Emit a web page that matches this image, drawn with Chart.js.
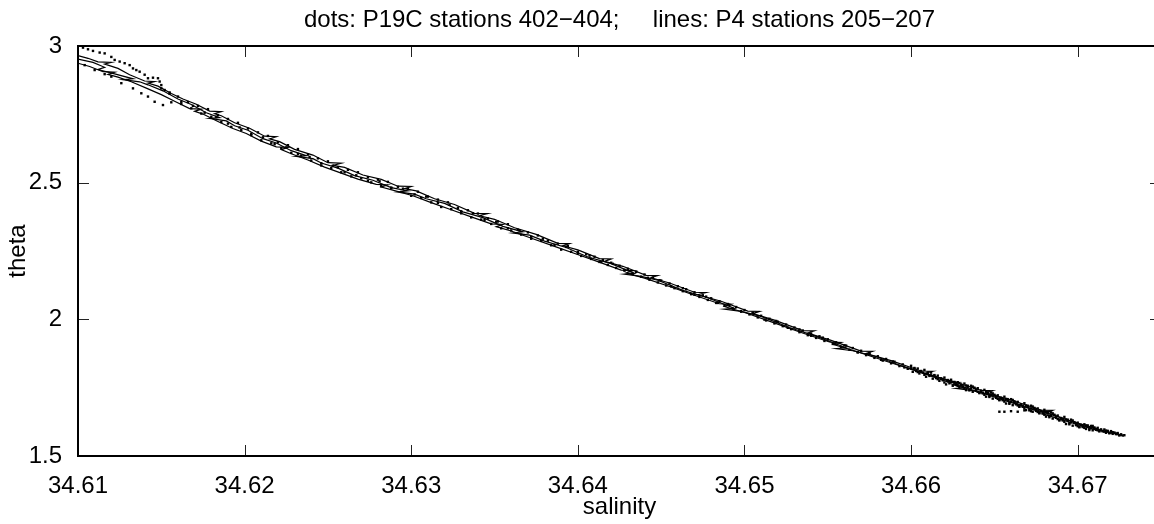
<!DOCTYPE html>
<html>
<head>
<meta charset="utf-8">
<title>theta / salinity</title>
<script src="https://cdn.jsdelivr.net/npm/chart.js@4.4.1/dist/chart.umd.min.js"></script>
<style>
  html, body { margin: 0; padding: 0; background: #fff; overflow: hidden; }
  #wrap { position: relative; width: 1154px; height: 524px; overflow: hidden; }
  #tsChart { position: absolute; left: 0; top: 0; }
</style>
</head>
<body>
<div id="wrap"><canvas id="tsChart" width="1170" height="524"></canvas></div>
<script>
// ============================== data

const titleText = 'dots: P19C stations 402\u2212404;     lines: P4 stations 205\u2212207';
const xTicks = [34.61, 34.62, 34.63, 34.64, 34.65, 34.66, 34.67];
const yTicks = [1.5, 2, 2.5, 3];

// P4 lines
const sal205 = [34.6100, 34.6106, 34.6112, 34.6120, 34.6116, 34.6118, 34.6124, 34.6131, 34.6140, 34.6146,
  34.6142, 34.6148, 34.6156, 34.6163, 34.6171, 34.6179, 34.6186, 34.6182, 34.6186, 34.6194,
  34.6203, 34.6212, 34.6219, 34.6215, 34.6221, 34.6230, 34.6241, 34.6250, 34.6258, 34.6253,
  34.6260, 34.6271, 34.6282, 34.6292, 34.6300, 34.6296, 34.6303, 34.6314, 34.6326, 34.6338,
  34.6346, 34.6341, 34.6350, 34.6362, 34.6375, 34.6388, 34.6395, 34.6391, 34.6400, 34.6413,
  34.6420, 34.6416, 34.6427, 34.6441, 34.6448, 34.6444, 34.6455, 34.6470, 34.6477, 34.6472,
  34.6486, 34.6502, 34.6509, 34.6505, 34.6518, 34.6535, 34.6542, 34.6538, 34.6552, 34.6570,
  34.6577, 34.6573, 34.6588, 34.6606, 34.6613, 34.6608, 34.6624, 34.6642, 34.6649, 34.6645,
  34.6660, 34.6678, 34.6685, 34.6681, 34.6695, 34.6710];
const theta205 = [2.965, 2.955, 2.942, 2.940, 2.934, 2.930, 2.918, 2.895, 2.872, 2.870,
  2.864, 2.853, 2.826, 2.806, 2.787, 2.762, 2.760, 2.752, 2.745, 2.719,
  2.699, 2.670, 2.668, 2.660, 2.650, 2.622, 2.601, 2.573, 2.571, 2.563,
  2.556, 2.528, 2.512, 2.487, 2.486, 2.478, 2.470, 2.441, 2.420, 2.388,
  2.387, 2.379, 2.366, 2.335, 2.311, 2.278, 2.277, 2.269, 2.254, 2.222,
  2.221, 2.212, 2.194, 2.161, 2.160, 2.152, 2.133, 2.099, 2.098, 2.090,
  2.066, 2.030, 2.029, 2.021, 1.997, 1.959, 1.958, 1.950, 1.923, 1.884,
  1.883, 1.875, 1.849, 1.811, 1.810, 1.802, 1.775, 1.740, 1.739, 1.731,
  1.705, 1.668, 1.667, 1.658, 1.630, 1.602];

const sal206 = [34.6100, 34.6109, 34.6116, 34.6112, 34.6122, 34.6133, 34.6127, 34.6137, 34.6142, 34.6151,
  34.6160, 34.6168, 34.6177, 34.6185, 34.6179, 34.6189, 34.6194, 34.6202, 34.6211, 34.6219,
  34.6228, 34.6237, 34.6231, 34.6241, 34.6246, 34.6256, 34.6266, 34.6277, 34.6288, 34.6298,
  34.6292, 34.6302, 34.6309, 34.6320, 34.6331, 34.6343, 34.6355, 34.6367, 34.6361, 34.6371,
  34.6380, 34.6393, 34.6406, 34.6420, 34.6434, 34.6428, 34.6438, 34.6448, 34.6463, 34.6478,
  34.6494, 34.6488, 34.6498, 34.6510, 34.6527, 34.6544, 34.6561, 34.6555, 34.6565, 34.6579,
  34.6597, 34.6615, 34.6633, 34.6627, 34.6637, 34.6651, 34.6669, 34.6687, 34.6703, 34.6718];
const theta206 = [2.952, 2.940, 2.922, 2.914, 2.898, 2.880, 2.877, 2.869, 2.858, 2.836,
  2.806, 2.786, 2.756, 2.738, 2.735, 2.726, 2.708, 2.692, 2.661, 2.645,
  2.617, 2.599, 2.596, 2.588, 2.572, 2.553, 2.526, 2.509, 2.482, 2.470,
  2.466, 2.458, 2.441, 2.424, 2.393, 2.372, 2.340, 2.320, 2.316, 2.308,
  2.286, 2.263, 2.228, 2.204, 2.168, 2.165, 2.157, 2.143, 2.106, 2.079,
  2.040, 2.037, 2.029, 2.011, 1.970, 1.936, 1.896, 1.893, 1.885, 1.864,
  1.824, 1.791, 1.750, 1.747, 1.739, 1.719, 1.680, 1.647, 1.611, 1.588];

const sal207 = [34.6100, 34.6107, 34.6115, 34.6122, 34.6118, 34.6124, 34.6132, 34.6141, 34.6150, 34.6158,
  34.6167, 34.6174, 34.6170, 34.6175, 34.6184, 34.6193, 34.6201, 34.6210, 34.6219, 34.6226,
  34.6222, 34.6228, 34.6238, 34.6248, 34.6258, 34.6268, 34.6279, 34.6286, 34.6282, 34.6290,
  34.6301, 34.6312, 34.6324, 34.6336, 34.6348, 34.6355, 34.6351, 34.6360, 34.6373, 34.6386,
  34.6399, 34.6412, 34.6426, 34.6433, 34.6429, 34.6440, 34.6455, 34.6470, 34.6485, 34.6492,
  34.6488, 34.6501, 34.6517, 34.6534, 34.6551, 34.6558, 34.6554, 34.6568, 34.6586, 34.6604,
  34.6622, 34.6629, 34.6625, 34.6640, 34.6658, 34.6676, 34.6683, 34.6679, 34.6693, 34.6709,
  34.6724];
const theta207 = [2.937, 2.925, 2.906, 2.904, 2.896, 2.886, 2.869, 2.846, 2.822, 2.798,
  2.771, 2.769, 2.761, 2.751, 2.724, 2.698, 2.680, 2.652, 2.631, 2.629,
  2.621, 2.606, 2.583, 2.557, 2.535, 2.513, 2.494, 2.492, 2.484, 2.471,
  2.452, 2.427, 2.401, 2.375, 2.349, 2.347, 2.339, 2.323, 2.295, 2.267,
  2.239, 2.211, 2.180, 2.178, 2.170, 2.151, 2.120, 2.088, 2.057, 2.055,
  2.047, 2.023, 1.989, 1.952, 1.917, 1.915, 1.907, 1.881, 1.845, 1.809,
  1.771, 1.769, 1.761, 1.736, 1.700, 1.664, 1.662, 1.654, 1.628, 1.598,
  1.580];

// P19C dots
const dotSal402 = [34.6103, 34.6106, 34.6109, 34.6113, 34.6116, 34.6120, 34.6122, 34.6125, 34.6128, 34.6131,
  34.6133, 34.6135, 34.6137, 34.6140, 34.6142, 34.6145, 34.6148, 34.6149, 34.6150, 34.6150,
  34.6152, 34.6155,
  34.6160, 34.6166, 34.6172, 34.6178, 34.6184, 34.6190, 34.6196, 34.6202, 34.6208, 34.6214,
  34.6220, 34.6226, 34.6232, 34.6238, 34.6244, 34.6250, 34.6256, 34.6262, 34.6268, 34.6274,
  34.6280, 34.6286, 34.6292, 34.6298, 34.6304, 34.6310, 34.6316, 34.6322, 34.6328, 34.6334,
  34.6340, 34.6346, 34.6352, 34.6358, 34.6364, 34.6370, 34.6376, 34.6382, 34.6388, 34.6394,
  34.6400,
  34.6405, 34.6410, 34.6415, 34.6420, 34.6425, 34.6430, 34.6435, 34.6440, 34.6445, 34.6450,
  34.6455, 34.6460, 34.6465, 34.6470, 34.6475, 34.6480, 34.6485, 34.6490, 34.6495, 34.6500,
  34.6505, 34.6510, 34.6515, 34.6520, 34.6525, 34.6530, 34.6535, 34.6540, 34.6545, 34.6550,
  34.6555, 34.6560, 34.6565, 34.6570, 34.6575, 34.6580, 34.6585, 34.6590, 34.6595,
  34.6600, 34.6602, 34.6604, 34.6606, 34.6608, 34.6610, 34.6612, 34.6614, 34.6616, 34.6618,
  34.6620, 34.6622, 34.6624, 34.6626, 34.6628, 34.6630, 34.6632, 34.6634, 34.6636, 34.6638,
  34.6640, 34.6642, 34.6644, 34.6646, 34.6648, 34.6650, 34.6652, 34.6654, 34.6656, 34.6658,
  34.6660, 34.6662, 34.6664, 34.6666, 34.6668, 34.6670, 34.6672, 34.6674, 34.6676, 34.6678,
  34.6680, 34.6682, 34.6684, 34.6686, 34.6688, 34.6690, 34.6692, 34.6694, 34.6696, 34.6698,
  34.6700, 34.6702, 34.6704, 34.6706, 34.6708, 34.6710, 34.6712, 34.6714, 34.6716, 34.6718,
  34.6720, 34.6722, 34.6724, 34.6726, 34.6728];
const dotTheta402 = [2.994, 2.988, 2.982, 2.976, 2.973, 2.960, 2.949, 2.943, 2.937, 2.930,
  2.918, 2.912, 2.906, 2.895, 2.882, 2.884, 2.882, 2.870, 2.857, 2.845,
  2.839, 2.830,
  2.815, 2.795, 2.781, 2.769, 2.747, 2.733, 2.719, 2.698, 2.684, 2.671,
  2.648, 2.637, 2.623, 2.603, 2.589, 2.578, 2.556, 2.547, 2.538, 2.520,
  2.511, 2.503, 2.485, 2.477, 2.467, 2.449, 2.438, 2.428, 2.408, 2.399,
  2.387, 2.369, 2.358, 2.348, 2.328, 2.318, 2.307, 2.288, 2.277, 2.268,
  2.247,
  2.238, 2.229, 2.217, 2.207, 2.196, 2.185, 2.174, 2.164, 2.153, 2.142,
  2.131, 2.121, 2.110, 2.099, 2.088, 2.077, 2.066, 2.056, 2.045, 2.034,
  2.024, 2.013, 2.002, 1.991, 1.981, 1.970, 1.959, 1.948, 1.938, 1.927,
  1.916, 1.905, 1.895, 1.885, 1.875, 1.865, 1.855, 1.845, 1.835,
  1.830, 1.820, 1.820, 1.810, 1.815, 1.806, 1.805, 1.794, 1.794, 1.783,
  1.787, 1.778, 1.779, 1.769, 1.770, 1.760, 1.765, 1.757, 1.757, 1.748,
  1.748, 1.738, 1.742, 1.733, 1.732, 1.722, 1.722, 1.712, 1.717, 1.708,
  1.708, 1.698, 1.698, 1.688, 1.693, 1.684, 1.684, 1.674, 1.674, 1.664,
  1.669, 1.660, 1.659, 1.649, 1.648, 1.638, 1.643, 1.633, 1.633, 1.622,
  1.622, 1.613, 1.616, 1.612, 1.610, 1.603, 1.603, 1.597, 1.597, 1.592,
  1.591, 1.585, 1.584, 1.579, 1.576];

const dotSal403 = [34.6104, 34.6110, 34.6116, 34.6120, 34.6126, 34.6133, 34.6138, 34.6142, 34.6146, 34.6151,
  34.6156, 34.6162, 34.6168, 34.6174, 34.6180, 34.6186, 34.6192, 34.6198, 34.6204, 34.6210,
  34.6216, 34.6222, 34.6228, 34.6234, 34.6240, 34.6246, 34.6252, 34.6258, 34.6264, 34.6270,
  34.6276, 34.6282, 34.6288, 34.6294, 34.6300, 34.6306, 34.6312, 34.6318, 34.6324, 34.6330,
  34.6336, 34.6342, 34.6348, 34.6354, 34.6360, 34.6366, 34.6372, 34.6378, 34.6384, 34.6390,
  34.6396, 34.6402,
  34.6408, 34.6413, 34.6418, 34.6423, 34.6428, 34.6433, 34.6438, 34.6443, 34.6448, 34.6453,
  34.6458, 34.6463, 34.6468, 34.6473, 34.6478, 34.6483, 34.6488, 34.6493, 34.6498, 34.6503,
  34.6508, 34.6513, 34.6518, 34.6523, 34.6528, 34.6533, 34.6538, 34.6543, 34.6548, 34.6553,
  34.6558, 34.6563, 34.6568, 34.6573, 34.6578, 34.6583, 34.6588, 34.6593, 34.6598,
  34.6601, 34.6603, 34.6605, 34.6607, 34.6609, 34.6611, 34.6613, 34.6615, 34.6617, 34.6619,
  34.6621, 34.6623, 34.6625, 34.6627, 34.6629, 34.6631, 34.6633, 34.6635, 34.6637, 34.6639,
  34.6641, 34.6643, 34.6645, 34.6647, 34.6649, 34.6651, 34.6653, 34.6655, 34.6657, 34.6659,
  34.6661, 34.6663, 34.6665, 34.6667, 34.6669, 34.6671, 34.6673, 34.6675, 34.6677, 34.6679,
  34.6681, 34.6683, 34.6685, 34.6687, 34.6689, 34.6691, 34.6693, 34.6695, 34.6697, 34.6699,
  34.6701, 34.6703, 34.6705, 34.6707, 34.6709, 34.6711, 34.6713, 34.6715, 34.6717, 34.6719,
  34.6721, 34.6723, 34.6725, 34.6727];
const dotTheta403 = [2.930, 2.912, 2.897, 2.888, 2.864, 2.845, 2.827, 2.815, 2.796, 2.784,
  2.794, 2.788, 2.772, 2.753, 2.741, 2.722, 2.704, 2.693, 2.674, 2.655,
  2.644, 2.626, 2.609, 2.599, 2.581, 2.563, 2.553, 2.538, 2.523, 2.516,
  2.501, 2.487, 2.480, 2.466, 2.452, 2.444, 2.428, 2.411, 2.403, 2.388,
  2.373, 2.365, 2.349, 2.333, 2.325, 2.310, 2.295, 2.287, 2.271, 2.255,
  2.247, 2.232,
  2.221, 2.210, 2.199, 2.188, 2.178, 2.167, 2.156, 2.145, 2.135, 2.124,
  2.114, 2.103, 2.092, 2.082, 2.071, 2.060, 2.050, 2.039, 2.028, 2.018,
  2.007, 1.996, 1.985, 1.975, 1.964, 1.953, 1.942, 1.932, 1.921, 1.910,
  1.899, 1.889, 1.879, 1.869, 1.859, 1.849, 1.839, 1.829, 1.819,
  1.808, 1.811, 1.802, 1.805, 1.790, 1.793, 1.783, 1.785, 1.775, 1.777,
  1.762, 1.766, 1.757, 1.760, 1.752, 1.755, 1.741, 1.744, 1.735, 1.739,
  1.730, 1.732, 1.717, 1.720, 1.710, 1.713, 1.704, 1.707, 1.692, 1.695,
  1.686, 1.689, 1.680, 1.683, 1.668, 1.671, 1.662, 1.665, 1.656, 1.659,
  1.644, 1.646, 1.637, 1.640, 1.630, 1.633, 1.617, 1.620, 1.611, 1.613,
  1.605, 1.609, 1.599, 1.600, 1.594, 1.596, 1.590, 1.591, 1.585, 1.585,
  1.581, 1.580, 1.576, 1.575];

const dotSal404 = [34.6155, 34.6162, 34.6169, 34.6176, 34.6183, 34.6190, 34.6197, 34.6204, 34.6211, 34.6218,
  34.6225, 34.6232, 34.6239, 34.6246, 34.6253, 34.6260, 34.6267, 34.6274, 34.6281, 34.6288,
  34.6295, 34.6302, 34.6309, 34.6316, 34.6323, 34.6330, 34.6337, 34.6344, 34.6351, 34.6358,
  34.6365, 34.6372, 34.6379, 34.6386, 34.6393, 34.6400, 34.6407, 34.6414, 34.6421, 34.6428,
  34.6435, 34.6442, 34.6449, 34.6456, 34.6463, 34.6470, 34.6477, 34.6484, 34.6491, 34.6498,
  34.6505, 34.6512, 34.6519, 34.6526, 34.6533, 34.6540, 34.6547, 34.6554, 34.6561, 34.6568,
  34.6575, 34.6582, 34.6589, 34.6596,
  34.6600, 34.6602, 34.6604, 34.6606, 34.6608, 34.6610, 34.6612, 34.6614, 34.6616, 34.6618,
  34.6620, 34.6622, 34.6624, 34.6626, 34.6628, 34.6630, 34.6632, 34.6634, 34.6636, 34.6638,
  34.6640, 34.6642, 34.6644, 34.6646, 34.6648, 34.6650, 34.6652, 34.6654, 34.6656, 34.6658,
  34.6660, 34.6662, 34.6664, 34.6666, 34.6668, 34.6670, 34.6672, 34.6674, 34.6676, 34.6678,
  34.6680, 34.6682, 34.6684, 34.6686, 34.6688, 34.6690, 34.6692, 34.6694, 34.6696, 34.6698,
  34.6700, 34.6702, 34.6704, 34.6706, 34.6708, 34.6710, 34.6712, 34.6714, 34.6716, 34.6718,
  34.6720, 34.6722, 34.6724, 34.6726,
  34.6631, 34.6633, 34.6635, 34.6637, 34.6639, 34.6641, 34.6643, 34.6645, 34.6647, 34.6649,
  34.6651, 34.6653, 34.6655, 34.6657, 34.6659, 34.6661, 34.6663, 34.6665, 34.6667, 34.6669,
  34.6671, 34.6673, 34.6675, 34.6677, 34.6679, 34.6681, 34.6683, 34.6685, 34.6687, 34.6689,
  34.6691, 34.6693, 34.6695, 34.6697, 34.6699, 34.6701, 34.6703, 34.6705, 34.6707, 34.6709,
  34.6711, 34.6713, 34.6715, 34.6717, 34.6719, 34.6721, 34.6723, 34.6725,
  34.6653, 34.6656, 34.6660, 34.6664, 34.6668, 34.6672];
const dotTheta404 = [2.825, 2.796, 2.781, 2.756, 2.741, 2.716, 2.702, 2.679, 2.666, 2.641,
  2.629, 2.605, 2.594, 2.571, 2.562, 2.538, 2.527, 2.507, 2.505, 2.482,
  2.478, 2.457, 2.449, 2.426, 2.419, 2.395, 2.388, 2.364, 2.357, 2.333,
  2.326, 2.302, 2.295, 2.272, 2.265, 2.241, 2.233, 2.210, 2.203, 2.181,
  2.174, 2.152, 2.143, 2.121, 2.114, 2.090, 2.083, 2.060, 2.053, 2.030,
  2.023, 1.999, 1.994, 1.969, 1.963, 1.940, 1.933, 1.910, 1.904, 1.880,
  1.875, 1.852, 1.846, 1.824,
  1.820, 1.822, 1.807, 1.811, 1.797, 1.801, 1.795, 1.796, 1.781, 1.784,
  1.769, 1.773, 1.769, 1.771, 1.757, 1.761, 1.747, 1.752, 1.747, 1.750,
  1.735, 1.739, 1.724, 1.728, 1.722, 1.724, 1.709, 1.713, 1.699, 1.703,
  1.698, 1.700, 1.685, 1.689, 1.675, 1.679, 1.674, 1.676, 1.661, 1.665,
  1.651, 1.655, 1.649, 1.651, 1.635, 1.639, 1.625, 1.628, 1.623, 1.624,
  1.609, 1.614, 1.603, 1.607, 1.603, 1.604, 1.594, 1.596, 1.589, 1.590,
  1.586, 1.585, 1.580, 1.578,
  1.752, 1.758, 1.740, 1.754, 1.742, 1.732, 1.729, 1.734, 1.716, 1.729,
  1.716, 1.706, 1.704, 1.709, 1.691, 1.705, 1.692, 1.682, 1.680, 1.685,
  1.667, 1.681, 1.668, 1.658, 1.656, 1.661, 1.642, 1.656, 1.643, 1.632,
  1.630, 1.634, 1.616, 1.630, 1.616, 1.607, 1.606, 1.612, 1.595, 1.610,
  1.599, 1.593, 1.591, 1.593, 1.583, 1.587, 1.582, 1.576,
  1.662, 1.662, 1.664, 1.662, 1.667, 1.664];

// ============================== chart

const pairs = (xs, ys) => xs.map((v, i) => ({ x: v, y: ys[i] }));

const tickLen = 11;

// matlab style box with inward ticks on all four sides
const boxTicks = {
  id: 'boxTicks',
  afterDraw(chart) {
    const { ctx, chartArea: a, scales: { x, y } } = chart;
    ctx.save();
    ctx.strokeStyle = '#222';
    ctx.lineWidth = 1;
    ctx.beginPath();
    xTicks.forEach(v => {
      const px = Math.round(x.getPixelForValue(v)) + 0.5;
      ctx.moveTo(px, a.bottom); ctx.lineTo(px, a.bottom - tickLen);
      ctx.moveTo(px, a.top); ctx.lineTo(px, a.top + tickLen);
    });
    yTicks.forEach(v => {
      const py = Math.round(y.getPixelForValue(v)) + 0.5;
      ctx.moveTo(a.left, py); ctx.lineTo(a.left + tickLen, py);
      ctx.moveTo(a.right, py); ctx.lineTo(a.right - tickLen, py);
    });
    ctx.stroke();
    ctx.strokeStyle = '#000';
    ctx.lineWidth = 2;
    ctx.strokeRect(a.left, a.top, a.right - a.left, a.bottom - a.top);
    ctx.restore();
  }
};

Chart.defaults.font.family = "'Liberation Sans', Arial, Helvetica, sans-serif";
Chart.defaults.font.size = 24;
Chart.defaults.color = '#000';

const dotStyle = { pointStyle: 'rect', pointRadius: 1.7, backgroundColor: '#000', borderWidth: 0, showLine: false };
const lineStyle = { showLine: true, borderColor: '#000', borderWidth: 1.2, pointRadius: 0, fill: false, tension: 0 };

const ctx = document.getElementById('tsChart').getContext('2d');
const tsChart = new Chart(ctx, {
  type: 'scatter',
  data: {
    datasets: [
      { label: 'P19C 402', data: pairs(dotSal402, dotTheta402), ...dotStyle },
      { label: 'P19C 403', data: pairs(dotSal403, dotTheta403), ...dotStyle },
      { label: 'P19C 404', data: pairs(dotSal404, dotTheta404), ...dotStyle },
      { label: 'P4 205', data: pairs(sal205, theta205), ...lineStyle },
      { label: 'P4 206', data: pairs(sal206, theta206), ...lineStyle },
      { label: 'P4 207', data: pairs(sal207, theta207), ...lineStyle }
    ]
  },
  options: {
    responsive: false,
    animation: false,
    events: [],
    layout: { padding: { left: 0, right: 9, top: 0, bottom: 0 } },
    plugins: {
      legend: { display: false },
      tooltip: { enabled: false },
      title: {
        display: true,
        text: titleText,
        fullSize: false,
        font: { size: 24, weight: 'normal' },
        color: '#000',
        padding: { top: 6, bottom: 11.2 }
      }
    },
    scales: {
      x: {
        type: 'linear',
        min: 34.61,
        max: 34.675,
        grid: { display: false },
        border: { display: false },
        ticks: { padding: 8, maxRotation: 0, autoSkip: false, callback: v => v.toFixed(2) },
        afterBuildTicks: s => { s.ticks = xTicks.map(v => ({ value: v })); },
        afterFit: s => { s.height = 68; },
        title: { display: true, text: 'salinity', padding: { top: 0, bottom: 2 } }
      },
      y: {
        type: 'linear',
        min: 1.5,
        max: 3,
        grid: { display: false },
        border: { display: false },
        ticks: { padding: 8, autoSkip: false, callback: v => String(v) },
        afterBuildTicks: s => { s.ticks = yTicks.map(v => ({ value: v })); },
        afterFit: s => { s.width = 78; },
        title: { display: true, text: 'theta', padding: { top: 4, bottom: 0 } }
      }
    }
  },
  plugins: [boxTicks]
});
</script>
</body>
</html>
